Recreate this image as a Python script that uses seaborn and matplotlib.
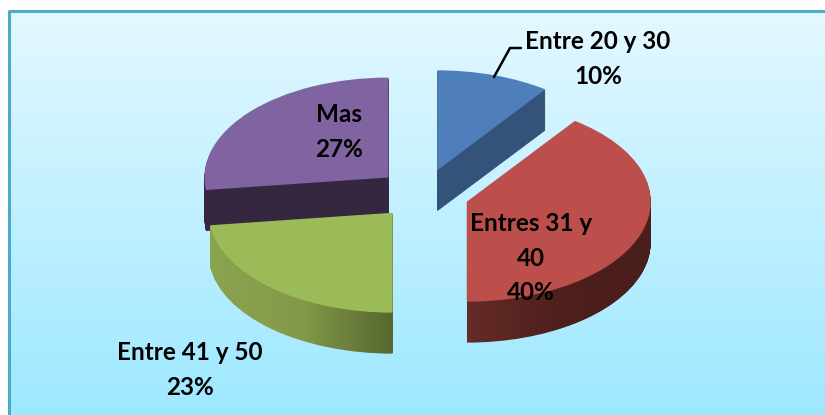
import matplotlib

matplotlib.use("Agg")
import matplotlib.pyplot as plt
import numpy as np
import seaborn as sns
from matplotlib.path import Path as MplPath
from matplotlib.patches import PathPatch
from matplotlib.transforms import Affine2D

# Chart values
labels = ["Entre 20 y 30", "Entres 31 y\n40", "Entre 41 y 50", "Mas"]
shares = [10, 40, 23, 27]

# Top face colours and side wall ramps, same order as the slices
top_colors = ["#4f7fba", "#bc4f4b", "#9bbb59", "#8064a2"]
side_ramps = [
    ["#34537a", "#34537a"],
    ["#652c28", "#4e1f1c", "#4a1e1b"],
    ["#8ba44f", "#84994a", "#57682e"],
    ["#352740", "#352740"],
]
draw_order = [3, 0, 1, 2]
label_spots = [(598, 59), (531, 258), (190, 370), (339, 132)]

W, H = 825, 415
SQUASH = 0.543  # vertical scale of the tilted pie
RADIUS = 184
EXPLODE = 46
DEPTH = 41
CENTER_X, CENTER_Y = 423, 194

sns.set_theme(style="white")
plt.rcParams["font.family"] = ["Lato", "DejaVu Sans"]

fig = plt.figure(figsize=(W / 100, H / 100), dpi=100, facecolor="white")
ax = fig.add_axes([0, 0, 1, 1])


def to_data_y(py):
    return (H - py) / SQUASH


def slice_pie(drop):
    wedges, _ = ax.pie(
        shares,
        explode=[EXPLODE] * len(shares),
        radius=RADIUS,
        center=(CENTER_X, to_data_y(CENTER_Y + drop)),
        startangle=90,
        counterclock=False,
        colors=top_colors,
        wedgeprops={"linewidth": 0},
    )
    return wedges


# Background panel with vertical gradient
back_cmap = sns.blend_palette(["#9de8ff", "#e4f8ff"], as_cmap=True)
ax.imshow(
    np.linspace(0, 1, 256).reshape(-1, 1),
    cmap=back_cmap,
    origin="lower",
    aspect="auto",
    extent=(9, W, 0, to_data_y(11)),
    zorder=0,
)

# Side walls: stack shifted copies of the slices into one clip path
layers = [[] for _ in shares]
for drop in range(DEPTH, 0, -1):
    for i, wedge in enumerate(slice_pie(drop)):
        layers[i].append(wedge.get_patch_transform().transform_path(wedge.get_path()))
        wedge.remove()

for i, ramp in enumerate(side_ramps):
    outline = MplPath.make_compound_path(*layers[i])
    x0, y0 = outline.vertices.min(axis=0)
    x1, y1 = outline.vertices.max(axis=0)
    side = ax.imshow(
        np.linspace(0, 1, 256).reshape(1, -1),
        cmap=sns.blend_palette(ramp, as_cmap=True),
        aspect="auto",
        extent=(x0, x1, y0, y1),
        zorder=draw_order.index(i) + 1,
    )
    side.set_clip_path(PathPatch(outline, transform=ax.transData))

# Top faces
for i, wedge in enumerate(slice_pie(0)):
    wedge.set_zorder(draw_order.index(i) + 1.5)

ax.set_aspect("auto")
ax.set_xlim(0, W)
ax.set_ylim(0, H / SQUASH)
ax.axis("off")

# Overlay in picture pixels, y going down
pixels = Affine2D().scale(1, -1).translate(0, H)

ax.plot([9, 9, W + 5], [H + 5, 11, 11], color="#4bacc6", lw=2.2, transform=pixels, zorder=6, clip_on=False)
ax.plot([494, 510, 521], [77, 48, 48], color="black", lw=1.8, transform=pixels, zorder=7)

for label, share, (px, py) in zip(labels, shares, label_spots):
    ax.text(
        px,
        py,
        f"{label}\n{share}%",
        transform=pixels,
        ha="center",
        va="center",
        ma="center",
        fontsize=17.5,
        fontweight="bold",
        linespacing=1.62,
        color="black",
        zorder=8,
    )

fig.savefig("out.png", dpi=100)
plt.close(fig)
